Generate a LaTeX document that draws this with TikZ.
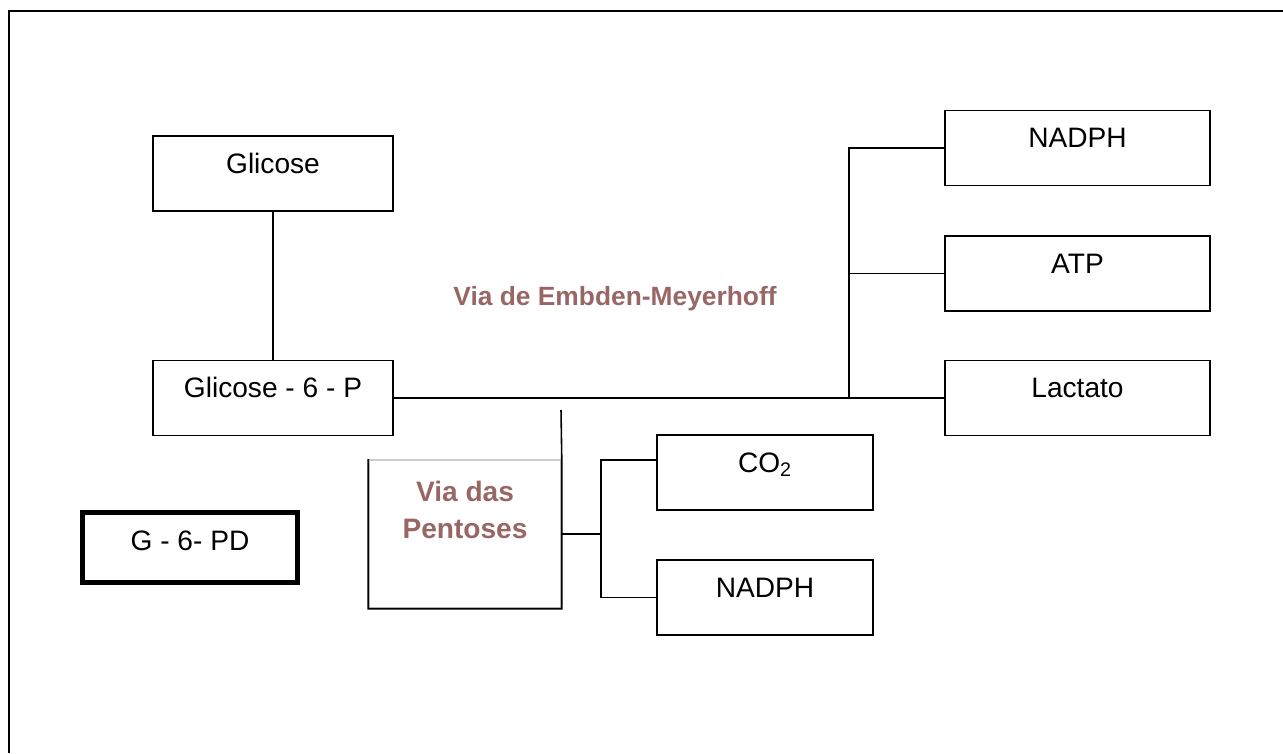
\documentclass[tikz,border=0pt]{standalone}
\usepackage{fontspec}
\setmainfont{Liberation Sans}
\definecolor{viabrown}{RGB}{153,102,102}
\begin{document}
\begin{tikzpicture}[
  x=0.02cm, y=-0.02cm,
  box/.style={rectangle, draw, line width=0.9pt, inner sep=0pt, text height=0.74cm, text depth=0.76cm, font=\fontsize{16}{19}\selectfont},
  via/.style={text=viabrown, inner sep=0pt, align=center},
  link/.style={line width=0.9pt}
]
\useasboundingbox (0,0) rectangle (1283,753);
\draw[line width=1.2pt] (9,753) -- (9,11) -- (1283,11);

\node[box, minimum width=4.8cm] (glic) at (273,173.5) {Glicose};
\node[box, minimum width=4.8cm] (g6p) at (273,398) {Glicose - 6 - P};
\node[box, minimum width=5.3cm] (nadph1) at (1077.5,148) {NADPH};
\node[box, minimum width=5.3cm] (atp) at (1077.5,273.5) {ATP};
\node[box, minimum width=5.3cm] (lac) at (1077.5,398) {Lactato};
\node[box, minimum width=4.32cm] (co2) at (765,472.5) {CO\textsubscript{2}};
\node[box, minimum width=4.32cm] (nadph2) at (765,597.5) {NADPH};
\node[box, minimum width=4.3cm, line width=2.8pt, text height=0.75cm, text depth=0.65cm] (g6pd) at (190,547.5) {G - 6- PD};

\node[via, anchor=base, font=\fontsize{15}{18}\selectfont\bfseries] (embden) at (615,305) {Via de Embden-Meyerhoff};

% pentoses box, top edge drawn light
\coordinate (pentTop) at (561,410);
\node[box, draw=gray!40, minimum width=3.84cm, minimum height=2.96cm] (pent) at (465,534) {};
\draw[link] (pent.north west) -- (pent.south west) -- (pent.south east) -- (pent.north east) -- (pentTop);
\node[via, anchor=north, font=\fontsize{16}{21}\selectfont\bfseries] (penttxt) at (465,481) {Via das\\Pentoses};

\coordinate (emfork) at (849,398);
\coordinate (pfork) at (601,534);

\draw[link] (glic) -- (g6p);
\draw[link] (g6p) -- (lac);
\draw[link] (nadph1.west) -| (emfork);
\draw[link] (atp.west) -- (atp.west -| emfork);
\draw[link] (pent.east) -- (pfork);
\draw[link] ([yshift=0.25cm]co2.west) -| (pfork) |- (nadph2.west);
\end{tikzpicture}
\end{document}
